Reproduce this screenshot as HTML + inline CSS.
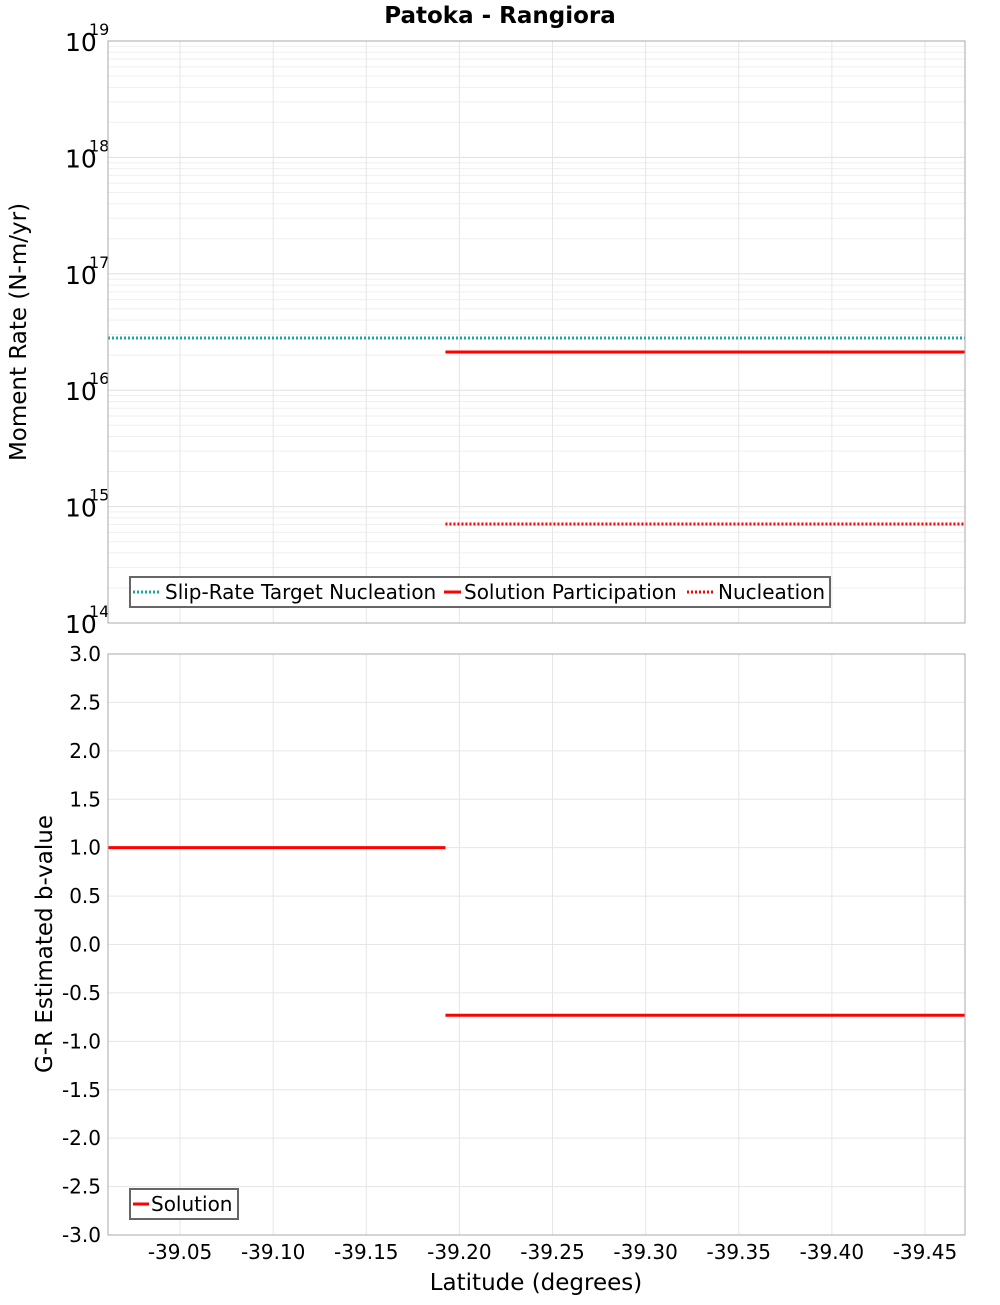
<!DOCTYPE html>
<html><head><meta charset="utf-8"><style>
body{margin:0;background:#fff;}
svg text{font-family:"DejaVu Sans","Liberation Sans",sans-serif;}
</style></head><body>
<svg id="c" width="1000" height="1300" viewBox="0 0 1000 1300" xmlns="http://www.w3.org/2000/svg">
<text x="500" y="23" text-anchor="middle" font-size="23" font-weight="bold">Patoka - Rangiora</text>
<g id="grid"></g>
<g id="series"></g>
<g id="axes"></g>
<text transform="translate(26,332) rotate(-90)" text-anchor="middle" font-size="23">Moment Rate (N-m/yr)</text>
<text transform="translate(52,944) rotate(-90)" text-anchor="middle" font-size="23">G-R Estimated b-value</text>
<text x="536" y="1290" text-anchor="middle" font-size="23">Latitude (degrees)</text>
<g>
<rect x="130" y="577" width="700" height="30" fill="#fff" stroke="#666" stroke-width="2"/>
<line x1="133" y1="592" x2="161" y2="592" stroke="#1aa5a5" stroke-width="3" stroke-dasharray="2,2"/>
<text x="165" y="599" font-size="20">Slip-Rate Target Nucleation</text>
<line x1="444" y1="592" x2="461" y2="592" stroke="#f00" stroke-width="3"/>
<text x="464" y="599" font-size="20">Solution Participation</text>
<line x1="687" y1="592" x2="715" y2="592" stroke="#f00" stroke-width="3" stroke-dasharray="2,2"/>
<text x="718" y="599" font-size="20">Nucleation</text>
</g>
<g>
<rect x="130" y="1189" width="108" height="30" fill="#fff" stroke="#666" stroke-width="2"/>
<line x1="133" y1="1204" x2="149" y2="1204" stroke="#f00" stroke-width="3"/>
<text x="151" y="1211" font-size="20">Solution</text>
</g>
</svg>
<script>
const xTicks=[-39.05,-39.10,-39.15,-39.20,-39.25,-39.30,-39.35,-39.40,-39.45];
const xTickLabels=["-39.05","-39.10","-39.15","-39.20","-39.25","-39.30","-39.35","-39.40","-39.45"];
const bTicks=[3,2.5,2,1.5,1,0.5,0,-0.5,-1,-1.5,-2,-2.5,-3];
const bTickLabels=["3.0","2.5","2.0","1.5","1.0","0.5","0.0","-0.5","-1.0","-1.5","-2.0","-2.5","-3.0"];
const decades=[14,15,16,17,18,19];
const targetLat=[-39.0113,-39.4715];
const targetNucleation=[2.81e16,2.81e16];
const solLat=[-39.1925,-39.4715];
const solParticipation=[2.13e16,2.13e16];
const solNucleation=[7.09e14,7.09e14];
const bLatA=[-39.0113,-39.1925];
const bValuesA=[1.0,1.0];
const bLatB=[-39.1925,-39.4715];
const bValuesB=[-0.73,-0.73];

const L=108,R=965,T1=41,B1=623,T2=654,B2=1235;
const X0=-39.0113,X1=-39.4715;
const x=v=>L+(v-X0)/(X1-X0)*(R-L);
const yLog=v=>B1-(Math.log10(v)-14)/5*(B1-T1);
const yB=v=>B2-(v+3)/6*(B2-T2);
const NS="http://www.w3.org/2000/svg";
function mk(p,t,a){const e=document.createElementNS(NS,t);for(const k in a)e.setAttribute(k,a[k]);document.getElementById(p).appendChild(e);return e;}
for(const d of decades.slice(0,-1)){for(let m=1;m<10;m++){const yy=yLog(m*Math.pow(10,d));
const g=mk('grid','line',{x1:L,x2:R,y1:yy,y2:yy,stroke:m==1?'#e0e0e0':'#efefef','stroke-width':1});

}}
for(const v of bTicks){const g=mk('grid','line',{x1:L,x2:R,y1:yB(v),y2:yB(v),stroke:'#e6e6e6','stroke-width':1});

}
xTicks.forEach((v,i)=>{for(const [a,b] of [[T1,B1],[T2,B2]]){const g=mk('grid','line',{x1:x(v),x2:x(v),y1:a,y2:b,stroke:'#e6e6e6','stroke-width':1});

}
const t=mk('axes','text',{x:x(v),y:1259,'text-anchor':'middle','font-size':20});t.textContent=xTickLabels[i];

});
bTicks.forEach((v,i)=>{const t=mk('axes','text',{x:101,y:yB(v)+7,'text-anchor':'end','font-size':20});t.textContent=bTickLabels[i];

});
decades.forEach(d=>{const t=mk('axes','text',{x:65,y:yLog(Math.pow(10,d))+10,'font-size':25});t.textContent='10';


const s=mk('axes','text',{x:89,y:yLog(Math.pow(10,d))-6,'font-size':16});s.textContent=String(d);

});
for(const [a,b] of [[T1,B1],[T2,B2]]){const r=mk('axes','rect',{x:L,y:a,width:R-L,height:b-a,fill:'none',stroke:'#aaa','stroke-width':1});

}
function line(xs,ys,fy,color,dash,name){const pts=xs.map((v,i)=>x(v)+','+fy(ys[i])).join(' ');
const p=mk('series','polyline',{points:pts,fill:'none',stroke:color,'stroke-width':3});if(dash)p.setAttribute('stroke-dasharray',dash);

}
line(targetLat,targetNucleation,yLog,'#1aa5a5','2,2','slip-rate-target-nucleation-line');
line(solLat,solParticipation,yLog,'#f00',null,'solution-participation-line');
line(solLat,solNucleation,yLog,'#f00','2,2','nucleation-line');
line(bLatA,bValuesA,yB,'#f00',null,'b-value-line-a');
line(bLatB,bValuesB,yB,'#f00',null,'b-value-line-b');
</script>
</body></html>
